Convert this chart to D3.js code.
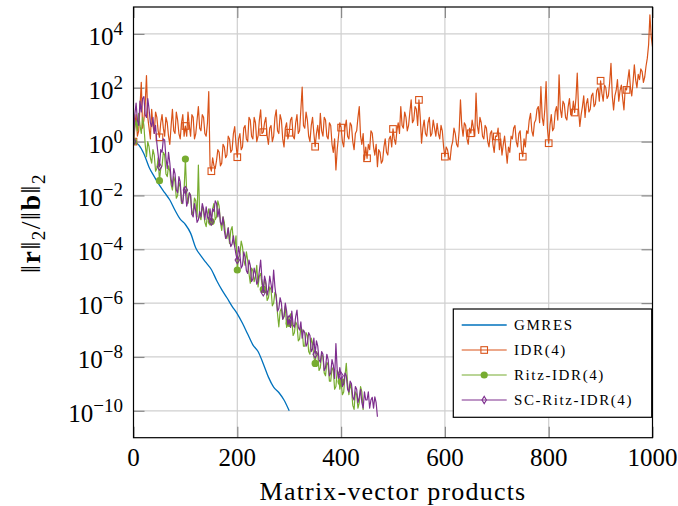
<!DOCTYPE html>
<html><head><meta charset="utf-8">
<script src="https://cdn.jsdelivr.net/npm/d3@7/dist/d3.min.js"></script>
<style>body{margin:0;background:#fff} svg{display:block}</style>
</head><body>
<svg id="c" width="678" height="506"></svg>
<script>
// ---------------- data ----------------
const seriesNames = ["GMRES", "IDR(4)", "Ritz-IDR(4)", "SC-Ritz-IDR(4)"];
const xTickValues = [0, 200, 400, 600, 800, 1000];
const yTickExponents = [-10, -8, -6, -4, -2, 0, 2, 4];
const xLabel = "Matrix-vector products";

// log10 of the relative residual, sampled every `step` matrix-vector products
const gmresStep = 10;
const gmresLog10 = [0, -0.12, -0.45, -0.95, -1.3, -1.62, -1.9, -2.17, -2.55, -2.88,
  -3.08, -3.4, -3.95, -4.25, -4.5, -4.75, -5.15, -5.5, -5.8, -6.12,
  -6.4, -6.75, -7.15, -7.55, -7.8, -8.25, -8.75, -9.12, -9.32, -9.6, -10.0];

const idrStep = 2.5;
const idrLog10 = [
  0, 0.6, 1.0, 0.2, 0.4, 1.3, 2.2, 0.5, 0.8, 1.4, 2.45, 0.9, 0.5, 0.1, 1.2, 0.6, 0.3, 1.1, 0.9, 0.4,
  0.16, 0.7, 1.0, 0.5, 0.2, 0.9, 0.7, 0.2, -0.1, 0.6, 1.2, 0.4, 0.3, 1.1, 0.8, 0.3, 0.1, 0.7, 1.0, 0.2,
  0.58, 0.2, 1.1, 0.6, 0.2, 1.0, 0.9, 0.1, 0.3, 0.8, 1.3, 0.5, 0.4, 1.0, 0.9, 0.3, 0.2, 0.7, 1.86, -0.9,
  -1.1, -0.6, -0.9, -1.0, -0.7, -0.3, -0.4, -0.9, -0.8, -0.1, -0.2, -0.6, -0.5, 0.2, 0.1, -0.4, -0.3, 0.3, 0.56, -0.1,
  -0.58, 0.1, 0.3, -0.3, -0.2, 0.5, 0.6, 0.1, 0.0, 0.9, 0.8, 0.2, 0.1, 0.9, 0.7, 0.0, 0.2, 0.8, 1.18, 0.3,
  0.35, 0.7, 0.9, 0.2, -0.1, 0.5, 0.6, 0.0, 0.2, 0.9, 1.18, 0.4, 0.3, 1.0, 0.8, 0.1, -0.2, 0.5, 0.7, 0.1,
  0.33, 0.8, 0.9, 0.2, 0.1, 0.7, 1.0, 0.3, 0.4, 1.2, 2.02, 0.6, 0.5, 1.1, 0.8, 0.2, 0.0, 0.6, 0.9, 0.3,
  -0.19, 0.3, 0.6, 0.1, 1.05, 0.4, 0.2, 0.9, 0.8, 0.2, 0.1, 0.7, 0.6, -0.1, -0.4, 0.1, -1.05, -0.3, 0.2, 0.7,
  0.52, 0.0, -0.2, 0.5, 0.8, 0.2, 0.1, 0.7, 0.6, 0.0, -0.3, 0.3, 0.4, 0.9, 1.3, 0.2, -0.1, 0.3, -0.68, -0.2,
  -0.62, -0.1, -0.3, 0.4, 0.31, -0.2, -0.5, -0.1, -0.93, -0.3, -0.4, -0.8, -0.7, -0.2, 0.1, -0.4, -0.5, 0.1, 0.2, -0.2,
  0.47, 0.1, -0.1, 0.4, 0.7, 0.3, 1.3, 0.6, 0.5, 1.1, 0.9, 0.4, 0.6, 1.1, 1.55, 0.7, 0.8, 1.3, 1.2, 0.6,
  1.55, 0.9, -0.06, 0.5, 0.8, 0.3, 0.2, 0.7, 0.9, 0.2, 0.3, 0.8, 0.5, 0.2, 0.68, 0.3, 0.1, 0.6, 0.4, -0.2,
  -0.56, -0.2, -0.3, -0.6, -0.68, -0.2, 0.0, 0.5, 0.3, -0.1, -0.2, 0.4, 1.55, 0.6, 0.2, 0.7, 0.6, 0.1, -0.1, 0.5,
  0.31, 0.8, 0.5, 0.2, 1.8, 0.6, 0.3, 0.9, 0.7, 0.2, 0.1, 0.6, 0.5, 0.0, -0.2, 0.3, 0.4, -0.1, -0.4, 0.2,
  0.19, 0.5, -0.3, 0.1, -0.5, -0.1, 0.2, -0.3, -0.8, -0.2, -0.4, 0.2, 0.1, 0.5, 0.6, 0.0, -0.2, 0.3, 0.4, -0.3,
  -0.56, 0.1, -0.2, 0.4, 0.3, 0.8, 1.05, 0.4, 0.2, 0.7, 0.8, 1.2, 1.3, 0.7, 2.04, 0.9, 0.6, 1.2, 2.23, 0.5,
  -0.06, 0.6, 1.0, 0.4, 0.5, 1.1, 1.3, 0.8, 2.48, 1.2, 0.9, 1.5, 1.4, 0.9, 0.8, 1.3, 1.6, 1.0, 1.0, 1.5,
  1.08, 1.6, 2.54, 1.2, 0.56, 1.0, 1.3, 1.7, 0.9, 1.4, 1.6, 1.1, 1.2, 1.7, 1.8, 1.3, 1.4, 1.9, 2.0, 1.5,
  2.26, 1.8, 1.5, 2.1, 2.0, 1.6, 1.7, 2.2, 2.91, 1.7, 1.18, 1.7, 1.9, 2.3, 1.5, 1.9, 2.1, 1.6, 1.18, 2.0,
  1.92, 2.3, 2.67, 2.0, 1.7, 2.2, 2.85, 2.3, 2.0, 2.5, 2.3, 2.7, 2.6, 2.2, 2.4, 2.8, 3.1, 3.6, 4.71, 3.9,
  3.53];

const ritzStep = 2.5;
const ritzLog10 = [
  0, 0.5, 0.8, 0.4, 1.05, 0.6, 0.3, 0.9, 0.6, -0.1, -0.56, 0.0, -0.2, -0.6, -0.8, -0.3, -0.5, -1.1, -1.0, -0.6,
  -1.45, -1.0, -0.9, -0.4, -0.5, -1.2, -1.3, -0.9, -1.1, -1.6, -1.8, -1.3, -1.5, -2.1, -2.0, -1.5, -1.7, -2.3, -2.2, -1.8,
  -0.65, -1.9, -2.3, -1.9, -2.0, -2.7, -2.6, -2.1, -2.2, -2.8, -0.87, -2.8, -2.9, -2.4, -2.6, -3.0, -3.16, -2.7, -2.5, -3.1,
  -2.97, -2.5, -2.3, -2.9, -2.8, -2.2, -2.4, -3.0, -3.3, -2.8, -3.0, -3.5, -3.6, -3.2, -3.78, -3.3, -3.16, -3.7, -3.9, -3.5,
  -4.77, -4.3, -4.2, -3.7, -3.9, -4.4, -4.6, -4.1, -4.4, -4.9, -5.26, -4.7, -4.8, -5.2, -5.0, -4.6, -5.4, -5.0, -4.9, -5.3,
  -5.49, -5.1, -5.3, -5.9, -5.8, -5.4, -5.5, -6.1, -6.0, -5.6, -5.7, -6.4, -6.88, -6.3, -6.2, -6.6, -6.5, -6.1, -6.9, -6.5,
  -6.75, -6.4, -6.6, -7.2, -7.1, -6.7, -6.8, -7.4, -7.34, -6.9, -7.0, -7.6, -7.6, -7.1, -7.2, -7.8, -7.9, -7.3, -7.5, -8.0,
  -8.24, -7.8, -7.9, -8.5, -8.4, -7.9, -8.0, -8.6, -8.7, -8.2, -8.3, -8.9, -8.9, -8.4, -8.5, -9.2, -9.1, -8.5, -8.6, -9.2,
  -8.92, -9.4, -9.3, -8.7, -8.24, -9.0, -9.4, -9.0, -9.2, -9.8, -9.95, -9.3, -9.4, -9.9, -9.7, -9.1, -9.3, -9.97];

const scRitzStep = 2.5;
const scRitzLog10 = [
  0, 1.0, 1.43, 0.8, 0.6, 1.5, 1.1, 1.6, 1.67, 1.0, 0.9, 1.6, 1.2, 0.7, 0.56, 0.9, 0.3, 0.6, -0.06, -0.5,
  -0.93, -0.3, -0.4, 0.1, 0.06, -0.6, -1.0, -0.4, -0.8, -1.4, -1.67, -1.0, -1.2, -1.8, -1.9, -1.3, -1.5, -2.2, -2.3, -1.7,
  -1.8, -2.4, -2.2, -1.9, -2.0, -2.7, -2.8, -2.3, -2.6, -3.0, -2.9, -2.6, -2.8, -2.3, -2.5, -2.9, -2.42, -2.8, -2.9, -2.5,
  -2.97, -2.5, -2.6, -2.2, -2.3, -2.8, -2.5, -3.0, -3.1, -2.8, -3.3, -3.6, -3.5, -3.2, -3.65, -3.9, -3.8, -3.5, -3.9, -4.2,
  -4.4, -3.9, -4.2, -4.7, -4.6, -4.1, -4.3, -4.8, -4.9, -4.4, -4.6, -5.2, -5.1, -4.7, -4.9, -5.3, -5.2, -4.8, -4.4, -5.1,
  -5.6, -5.0, -5.2, -5.7, -5.5, -5.0, -5.3, -5.6, -4.77, -5.4, -5.8, -6.3, -6.2, -5.8, -6.0, -6.6, -6.5, -6.0, -6.3, -6.8,
  -6.6, -6.9, -6.3, -6.8, -6.9, -6.5, -6.26, -6.9, -7.0, -6.7, -7.3, -7.0, -7.1, -7.6, -7.5, -7.1, -7.2, -7.8, -7.7, -7.3,
  -7.9, -7.4, -7.6, -8.1, -8.2, -7.8, -7.9, -8.5, -8.4, -7.9, -8.1, -8.7, -8.6, -8.1, -8.3, -8.8, -7.5, -8.5, -8.8, -8.4,
  -8.7, -9.1, -9.0, -8.6, -8.7, -9.2, -9.3, -8.9, -9.0, -9.5, -9.6, -9.1, -9.2, -9.7, -9.5, -9.2, -9.7, -9.9, -9.3, -9.6,
  -9.6, -9.3, -9.9, -9.6, -9.5, -9.9, -9.48, -9.7, -10.22];

const markEvery = 50;                 // marks every 50 matrix-vector products
const markUntil = [0, 950, 400, 400]; // last marked position per series

// ---------------- layout / style ----------------
const colors = ["#0072BD", "#D95319", "#77AC30", "#7E2F8E"];
const serif = "'Liberation Serif','Times New Roman',serif";
const L = 133.5, R = 652.5, T = 7, B = 437.7;

const svg = d3.select("#c");
const x = d3.scaleLinear().domain([0, 1000]).range([L, R]);
const y = d3.scaleLog().domain([1e-11, 1e5]).range([B, T]);
const yTicks = yTickExponents.map(e => Math.pow(10, e));

// grid
const grid = svg.append("g");
grid.selectAll("line.gx").data(xTickValues.slice(1, -1)).join("line")
  .attr("x1", d => x(d)).attr("x2", d => x(d)).attr("y1", T).attr("y2", B)
  .attr("stroke", "#cfcfcf").attr("stroke-width", 1.2);
grid.selectAll("line.gy").data(yTicks).join("line")
  .attr("x1", L).attr("x2", R).attr("y1", d => y(d)).attr("y2", d => y(d))
  .attr("stroke", "#cfcfcf").attr("stroke-width", 1.2);

// ticks (inward, all four sides)
const tickLen = 11;
function styleAxis(g) {
  g.select(".domain").remove();
  g.selectAll(".tick line").attr("stroke", "#8a8a8a").attr("stroke-width", 1.2);
  g.selectAll(".tick text").remove();
}
svg.append("g").attr("transform", `translate(0,${B})`)
  .call(d3.axisBottom(x).tickValues(xTickValues).tickSize(-tickLen)).call(styleAxis);
svg.append("g").attr("transform", `translate(0,${T})`)
  .call(d3.axisTop(x).tickValues(xTickValues).tickSize(-tickLen)).call(styleAxis);
svg.append("g").attr("transform", `translate(${L},0)`)
  .call(d3.axisLeft(y).tickValues(yTicks).tickSize(-tickLen)).call(styleAxis);
svg.append("g").attr("transform", `translate(${R},0)`)
  .call(d3.axisRight(y).tickValues(yTicks).tickSize(-tickLen)).call(styleAxis);

// tick labels
svg.append("g").selectAll("text").data(xTickValues).join("text")
  .attr("x", d => x(d)).attr("y", 466).attr("text-anchor", "middle")
  .attr("font-family", serif).attr("font-size", 25).attr("fill", "#000")
  .text(d => d);
const yl = svg.append("g").selectAll("text").data(yTickExponents).join("text")
  .attr("x", 123).attr("y", d => y(Math.pow(10, d)) + 11).attr("text-anchor", "end")
  .attr("font-family", serif).attr("font-size", 25).attr("fill", "#000");
yl.append("tspan").text("10");
yl.append("tspan").attr("font-size", 19).attr("dy", -10)
  .text(d => (d < 0 ? "\u2212" : "") + Math.abs(d));

// axis labels
svg.append("text").attr("x", (L + R) / 2).attr("y", 500).attr("text-anchor", "middle")
  .attr("font-family", serif).attr("font-size", 26).attr("letter-spacing", 1.2)
  .attr("fill", "#000").text(xLabel);
const ylab = svg.append("text").attr("transform", "translate(40,223) rotate(-90)")
  .attr("text-anchor", "middle").attr("font-family", serif).attr("font-size", 28)
  .attr("letter-spacing", 1.5).attr("fill", "#000");
ylab.append("tspan").text("\u2016");
ylab.append("tspan").attr("font-weight", "bold").text("r");
ylab.append("tspan").text("\u2016");
ylab.append("tspan").attr("font-size", 19).attr("dy", 5).text("2");
ylab.append("tspan").attr("dy", -5).text("/\u2016");
ylab.append("tspan").attr("font-weight", "bold").text("b");
ylab.append("tspan").text("\u2016");
ylab.append("tspan").attr("font-size", 19).attr("dy", 5).text("2");

// clip
svg.append("clipPath").attr("id", "clip").append("rect")
  .attr("x", L).attr("y", T).attr("width", R - L).attr("height", B - T);
const plot = svg.append("g").attr("clip-path", "url(#clip)");

// marker painters
function drawMarker(g, kind, cx, cy, color) {
  if (kind === "square") {
    g.append("rect").attr("x", cx - 3.3).attr("y", cy - 3.3).attr("width", 6.6).attr("height", 6.6)
      .attr("fill", "none").attr("stroke", color).attr("stroke-width", 1.1);
  } else if (kind === "circle") {
    g.append("circle").attr("cx", cx).attr("cy", cy).attr("r", 3.6).attr("fill", color);
  } else if (kind === "diamond") {
    g.append("path").attr("d", `M${cx},${cy - 3.6}L${cx + 2.2},${cy}L${cx},${cy + 3.6}L${cx - 2.2},${cy}Z`)
      .attr("fill", "none").attr("stroke", color).attr("stroke-width", 1.1);
  }
}

const series = [
  { name: seriesNames[0], step: gmresStep, vals: gmresLog10, color: colors[0], mark: null, curve: d3.curveMonotoneX, w: 1.3 },
  { name: seriesNames[1], step: idrStep, vals: idrLog10, color: colors[1], mark: "square", curve: d3.curveLinear, w: 1.2 },
  { name: seriesNames[2], step: ritzStep, vals: ritzLog10, color: colors[2], mark: "circle", curve: d3.curveLinear, w: 1.2 },
  { name: seriesNames[3], step: scRitzStep, vals: scRitzLog10, color: colors[3], mark: "diamond", curve: d3.curveLinear, w: 1.2 }
];

series.forEach((s, si) => {
  const pts = s.vals.map((e, i) => [i * s.step, Math.pow(10, e)]);
  const line = d3.line().x(d => x(d[0])).y(d => y(d[1])).curve(s.curve);
  plot.append("path").datum(pts).attr("d", line)
    .attr("fill", "none").attr("stroke", s.color).attr("stroke-width", s.w)
    .attr("stroke-linejoin", "round");
  if (s.mark) {
    const mg = plot.append("g");
    pts.filter(d => d[0] % markEvery === 0 && d[0] <= markUntil[si])
      .forEach(d => drawMarker(mg, s.mark, x(d[0]), y(d[1]), s.color));
  }
});

// frame
svg.append("rect").attr("x", L).attr("y", T).attr("width", R - L).attr("height", B - T)
  .attr("fill", "none").attr("stroke", "#000").attr("stroke-width", 1.2);

// legend
const lg = svg.append("g");
lg.append("rect").attr("x", 453.3).attr("y", 309).attr("width", 198.4).attr("height", 108.3)
  .attr("fill", "#fff").attr("stroke", "#000").attr("stroke-width", 1.2);
series.forEach((s, i) => {
  const cy = 325 + i * 25;
  lg.append("line").attr("x1", 461.7).attr("x2", 506.7).attr("y1", cy).attr("y2", cy)
    .attr("stroke", s.color).attr("stroke-width", s.w);
  if (s.mark) drawMarker(lg, s.mark, 484.2, cy, s.color);
  lg.append("text").attr("x", 514).attr("y", cy + 5)
    .attr("font-family", serif).attr("font-size", 15).attr("letter-spacing", 1.6)
    .attr("fill", "#000").text(s.name);
});
</script>
</body></html>
